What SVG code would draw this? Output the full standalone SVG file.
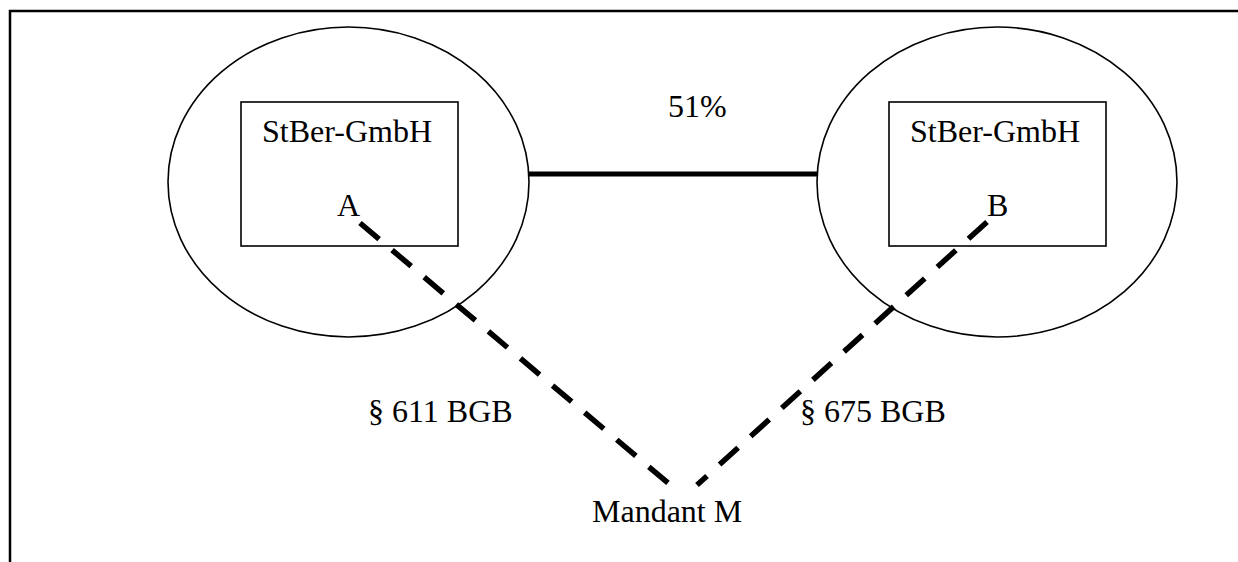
<svg xmlns="http://www.w3.org/2000/svg" width="1238" height="562" viewBox="0 0 1238 562">
  <style>
    .frame { fill: none; stroke: #000; stroke-width: 2.5; }
    .outline { fill: none; stroke: #000; stroke-width: 1.6; }
    .box { fill: #fff; stroke: #000; stroke-width: 1.6; }
    .label { font-family: "Liberation Serif", "Times New Roman", serif; font-size: 32px; fill: #000; }
    .solid { stroke: #000; stroke-width: 5; fill: none; }
    .dashed { stroke: #000; stroke-width: 5.5; fill: none; stroke-dasharray: 25 17; }
  </style>
  <rect width="1238" height="562" fill="#fff"/>

  <!-- page frame: top and left edges only -->
  <path class="frame" d="M10,562 V11 H1238"/>

  <!-- firm A -->
  <g id="node-a">
    <ellipse class="outline" cx="348.5" cy="182" rx="180.5" ry="155"/>
    <rect class="box" x="241" y="102" width="217" height="144"/>
    <text class="label" x="262" y="142">StBer-GmbH</text>
    <text class="label" x="337" y="216">A</text>
  </g>

  <!-- firm B -->
  <g id="node-b">
    <ellipse class="outline" cx="997" cy="182" rx="180" ry="155"/>
    <rect class="box" x="889" y="102" width="217" height="144"/>
    <text class="label" x="910" y="142">StBer-GmbH</text>
    <text class="label" x="987" y="216">B</text>
  </g>

  <!-- client -->
  <g id="node-m">
    <text class="label" x="592" y="522">Mandant M</text>
  </g>

  <!-- connectors -->
  <g id="connectors">
    <line class="solid" x1="529" y1="174" x2="817" y2="174"/>
    <text class="label" x="668" y="117">51%</text>
    <line class="dashed" x1="360" y1="223" x2="668" y2="483"/>
    <text class="label" x="368" y="422">§ 611 BGB</text>
    <line class="dashed" x1="987" y1="222" x2="697" y2="485"/>
    <text class="label" x="800" y="422">§ 675 BGB</text>
  </g>
</svg>
